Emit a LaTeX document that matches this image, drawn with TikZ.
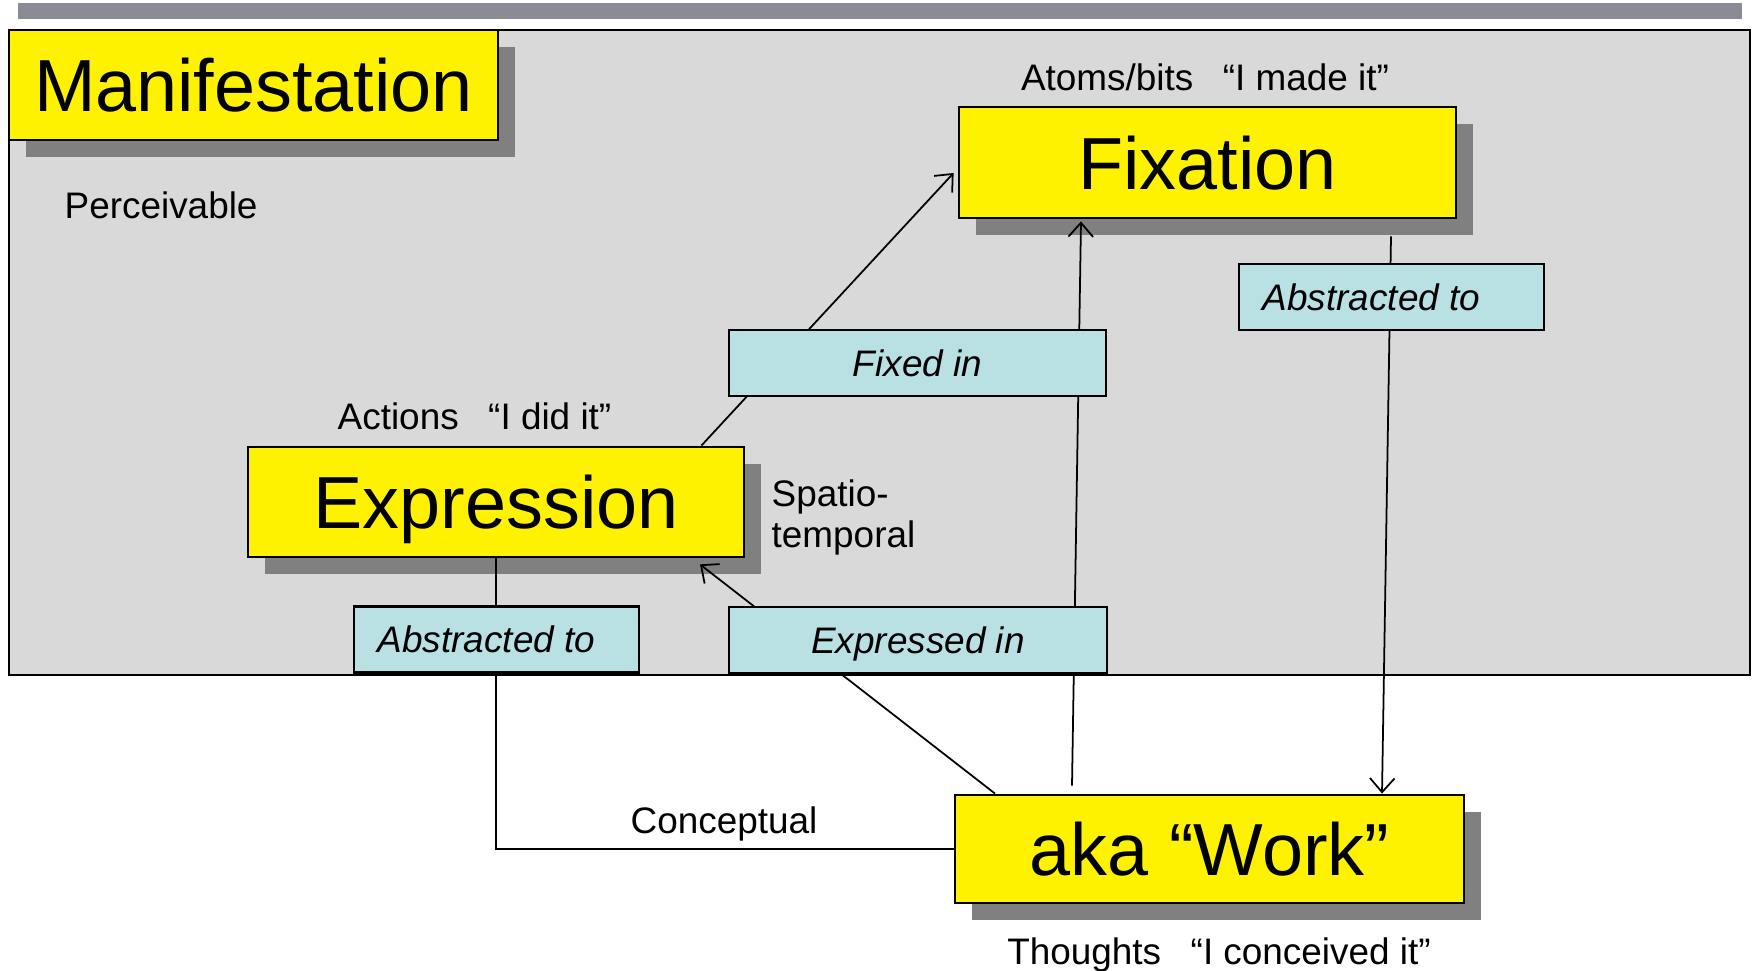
\documentclass[tikz,border=0pt]{standalone}
\usepackage{fontspec}
\setmainfont{Liberation Sans}
\usetikzlibrary{shadows,calc,arrows.meta}

\definecolor{panelgrey}{RGB}{217,217,217}
\definecolor{bargrey}{RGB}{139,139,150}
\definecolor{shadowgrey}{RGB}{128,128,128}
\definecolor{labelcyan}{RGB}{185,224,227}

\tikzset{
	entity/.style={draw=black, line width=0.8pt, fill=yellow, inner sep=0pt, text depth=0pt,
		font=\fontsize{21}{25}\selectfont,
		drop shadow={shadow xshift=0.17cm, shadow yshift=-0.17cm, fill=shadowgrey, opacity=1}},
	relation/.style={draw=black, line width=0.8pt, fill=labelcyan, inner sep=0pt, text depth=0pt,
		minimum height=0.66cm, font=\fontsize{10.5}{12.6}\selectfont\itshape},
	note/.style={inner sep=0pt, font=\fontsize{10.5}{11.9}\selectfont},
	link/.style={line width=0.5pt},
	arrowlink/.style={link, -{Straight Barb[length=4pt,width=7pt]}}
}

\begin{document}
\begin{tikzpicture}
	\useasboundingbox (0,0) rectangle (17.55,9.71);

	\fill[bargrey] (0.18,9.52) rectangle (17.42,9.68); % top bar
	\draw[fill=panelgrey, line width=0.7pt] (0.09,2.96) rectangle (17.50,9.41); % perceivable area

	\node[entity, minimum width=4.89cm, minimum height=1.10cm] (manif) at (2.535,8.86) {Manifestation};
	\node[entity, minimum width=4.97cm, minimum height=1.11cm] (fix) at (12.075,8.085) {Fixation};
	\node[entity, minimum width=4.96cm, minimum height=1.10cm] (expr) at (4.96,4.69) {Expression};
	\node[entity, minimum width=5.09cm, minimum height=1.08cm] (work) at (12.095,1.22) {aka “Work”};

	\node[note, anchor=base west] (perceivable) at (0.64,7.52) {Perceivable};
	\node[note, anchor=base] (atoms) at (12.05,8.80) {Atoms/bits\hspace{0.8em}“I made it”};
	\node[note, anchor=base] (actions) at (4.745,5.41) {Actions\hspace{0.8em}“I did it”};
	\node[note, anchor=west, align=left] (spatio) at (7.71,4.535) {Spatio-\\temporal};
	\node[note, anchor=base] (conceptual) at (7.24,1.37) {Conceptual};
	\node[note, anchor=base] (thoughts) at (12.19,0.06) {Thoughts\hspace{0.8em}“I conceived it”};

	% connectors, drawn under the relation boxes
	\draw[arrowlink] ($(expr.north east)+(-0.44,0)$) -- ($(fix.west)+(-0.04,-0.105)$);
	\draw[arrowlink] ($(work.north)+(-1.375,0.08)$) -- ($(fix.south)+(-1.265,-0.02)$);
	\draw[arrowlink] ($(fix.south)+(1.835,-0.17)$) -- ($(work.north)+(1.725,0)$);
	\draw[link] (expr.south) |- (work.west);
	\draw[arrowlink] ($(work.north)+(-2.145,0)$) -- ($(expr.south)+(2.04,-0.06)$);

	\node[relation, minimum width=3.77cm] (fixedin) at (9.175,6.08) {Fixed in};
	\node[relation, minimum width=3.05cm] (abstrfix) at (13.915,6.74) {Abstracted to\hspace*{0.4cm}};
	\node[relation, minimum width=2.85cm] (abstrexpr) at (4.965,3.315) {Abstracted to\hspace*{0.2cm}};
	\node[relation, minimum width=3.78cm] (expressedin) at (9.18,3.31) {Expressed in};
\end{tikzpicture}
\end{document}
